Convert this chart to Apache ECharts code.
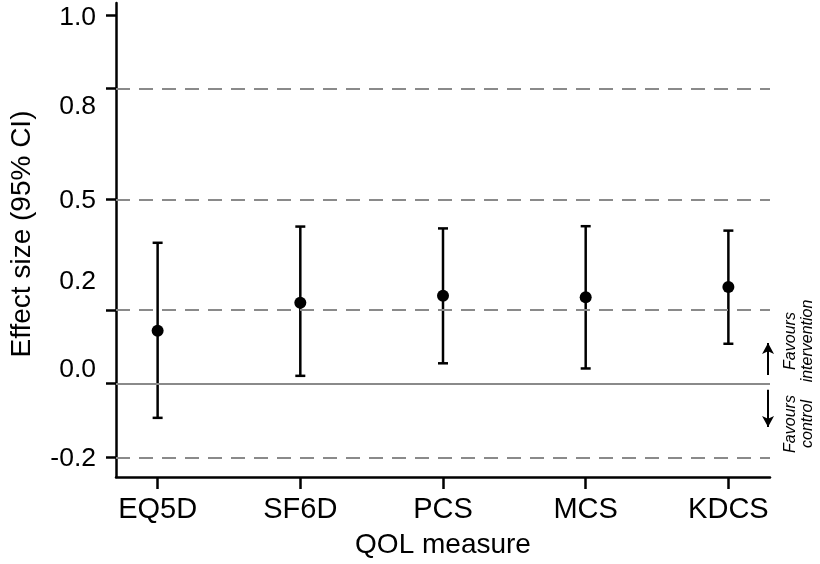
<!DOCTYPE html>
<html><head><meta charset="utf-8">
<script src="https://cdn.jsdelivr.net/npm/echarts@6/dist/echarts.min.js"></script>
<style>html,body{margin:0;padding:0;background:#fff}#c{width:820px;height:564px}</style>
</head><body><div id="c"></div>
<script>
// ---- data ----
const categories = ['EQ5D', 'SF6D', 'PCS', 'MCS', 'KDCS'];
const estimates = [0.143, 0.219, 0.238, 0.234, 0.262];
const lowerCI   = [-0.093, 0.021, 0.055, 0.041, 0.108];
const upperCI   = [0.382, 0.426, 0.421, 0.427, 0.415];
const yTickValues = [-0.2, 0, 0.2, 0.5, 0.8, 1.0];
const yTickLabels = ['-0.2', '0.0', '0.2', '0.5', '0.8', '1.0'];
const thresholdLines = [-0.2, 0.2, 0.5, 0.8];
const referenceLine = 0;

// ---- layout (label anchors are slightly offset from ticks in the original) ----
const yLabelAnchors = [-0.203, 0.037, 0.276, 0.495, 0.751, 0.993];
const FONT = '"Liberation Sans", Arial, Helvetica, sans-serif';

const chart = echarts.init(document.getElementById('c'), null, {renderer: 'canvas'});

const option = {
  animation: false,
  backgroundColor: '#fff',
  textStyle: {fontFamily: FONT},
  grid: {left: 110, right: 50, top: 3, bottom: 87, containLabel: false},
  xAxis: {
    type: 'value',
    min: -0.2917, max: 4.2917,
    name: 'QOL measure',
    nameLocation: 'middle',
    nameGap: 54,
    nameTextStyle: {fontSize: 28, color: '#000', fontFamily: FONT},
    axisLine: {onZero: false, lineStyle: {color: '#000', width: 2.5}},
    axisTick: {customValues: categories.map((c, i) => i), length: 12, lineStyle: {color: '#000', width: 2.5}},
    axisLabel: {
      customValues: categories.map((c, i) => i),
      formatter: v => categories[Math.round(v)],
      fontSize: 29, color: '#000', margin: 18, fontFamily: FONT
    },
    splitLine: {show: false}
  },
  yAxis: {
    type: 'value',
    min: -0.2535, max: 1.0326,
    name: 'Effect size (95% CI)',
    nameLocation: 'middle',
    nameGap: 80,
    nameTextStyle: {fontSize: 28, color: '#000', fontFamily: FONT, padding: [0, 0, 0, 12]},
    axisLine: {onZero: false, lineStyle: {color: '#000', width: 2.5}},
    axisTick: {customValues: yTickValues, length: 10, lineStyle: {color: '#000', width: 2.5}},
    axisLabel: {
      customValues: yLabelAnchors,
      formatter: function (v) {
        let best = 0, d = Infinity;
        yLabelAnchors.forEach((a, i) => { const dd = Math.abs(a - v); if (dd < d) { d = dd; best = i; } });
        return yTickLabels[best];
      },
      fontSize: 26.5, color: '#000', margin: 20, fontFamily: FONT
    },
    splitLine: {show: false}
  },
  series: [
    {
      type: 'line',
      data: [],
      silent: true,
      markLine: {
        silent: true,
        symbol: 'none',
        label: {show: false},
        data: thresholdLines.map(v => ({yAxis: v, lineStyle: {color: '#8a8a8a', width: 2, type: [14, 9]}}))
          .concat([{yAxis: referenceLine, lineStyle: {color: '#8a8a8a', width: 2, type: 'solid'}}])
      }
    },
    {
      type: 'line',
      data: [],
      silent: true,
      markLine: {
        silent: true,
        label: {show: false},
        lineStyle: {color: '#000', width: 2, type: 'solid'},
        data: [
          [{coord: [4.278, 0.023], symbol: 'none'}, {coord: [4.278, 0.110], symbol: 'arrow', symbolSize: [9, 11]}],
          [{coord: [4.278, -0.017], symbol: 'none'}, {coord: [4.278, -0.118], symbol: 'arrow', symbolSize: [9, 11]}]
        ]
      }
    },
    {
      type: 'custom',
      z: 3,
      data: categories.map((c, i) => [i, lowerCI[i], upperCI[i]]),
      renderItem: function (params, api) {
        const x = api.value(0), lo = api.value(1), hi = api.value(2);
        const pLo = api.coord([x, lo]), pHi = api.coord([x, hi]);
        const w = 5;
        const style = {stroke: '#000', lineWidth: 2.5};
        return {type: 'group', children: [
          {type: 'line', shape: {x1: pLo[0], y1: pLo[1], x2: pHi[0], y2: pHi[1]}, style: style},
          {type: 'line', shape: {x1: pLo[0] - w, y1: pLo[1], x2: pLo[0] + w, y2: pLo[1]}, style: style},
          {type: 'line', shape: {x1: pHi[0] - w, y1: pHi[1], x2: pHi[0] + w, y2: pHi[1]}, style: style}
        ]};
      }
    },
    {
      type: 'scatter',
      z: 4,
      symbol: 'circle',
      symbolSize: 12,
      itemStyle: {color: '#000', opacity: 1},
      data: estimates.map((v, i) => [i, v])
    }
  ],
  graphic: [
    {type: 'text', x: 799, y: 341, rotation: Math.PI / 2,
     style: {text: 'Favours\nintervention', fontSize: 16, fontStyle: 'italic', fontFamily: FONT, fill: '#000',
             align: 'center', verticalAlign: 'middle', lineHeight: 17}},
    {type: 'text', x: 799, y: 424, rotation: Math.PI / 2,
     style: {text: 'Favours\ncontrol', fontSize: 16, fontStyle: 'italic', fontFamily: FONT, fill: '#000',
             align: 'center', verticalAlign: 'middle', lineHeight: 17}}
  ]
};
chart.setOption(option);
</script>
</body></html>
